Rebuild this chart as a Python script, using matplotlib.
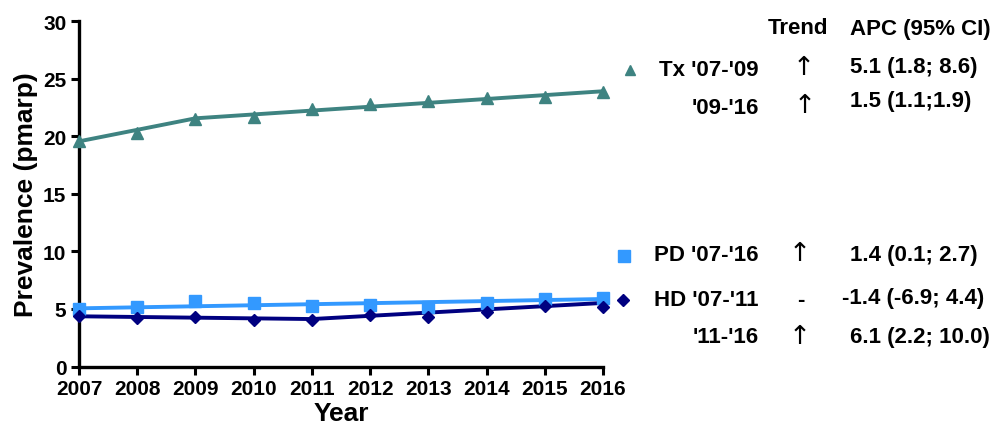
import matplotlib
matplotlib.use("Agg")
import matplotlib.pyplot as plt

plt.rcParams['font.family'] = ['Liberation Sans', 'DejaVu Sans']
plt.rcParams['font.weight'] = 'bold'

years = [2007, 2008, 2009, 2010, 2011, 2012, 2013, 2014, 2015, 2016]

# Observed prevalence (pmarp)
tx_obs = [19.6, 20.25, 21.5, 21.65, 22.35, 22.75, 23.05, 23.3, 23.4, 23.85]
pd_obs = [4.95, 5.15, 5.65, 5.5, 5.25, 5.35, 5.15, 5.5, 5.9, 5.95]
hd_obs = [4.4, 4.2, 4.27, 4.05, 4.05, 4.45, 4.27, 4.7, 5.28, 5.15]

# Joinpoint regression fits (values at the joinpoints)
tx_fit_years = [2007, 2009, 2016]
tx_fit = [19.55, 21.55, 23.9]
pd_fit_years = [2007, 2016]
pd_fit = [5.05, 5.86]
hd_fit_years = [2007, 2011, 2016]
hd_fit = [4.36, 4.12, 5.52]

c_tx = '#3e8381'
c_pd = '#3399ff'
c_hd = '#000080'

W, H = 990, 431
fig = plt.figure(figsize=(W / 100, H / 100), dpi=100)
ax = fig.add_axes([79 / W, (H - 367.5) / H, (603 - 79) / W, (367.5 - 22) / H])

lw = 2.8
ax.plot(tx_fit_years, tx_fit, color=c_tx, lw=lw, solid_capstyle='butt', clip_on=False, zorder=2)
ax.plot(pd_fit_years, pd_fit, color=c_pd, lw=lw, solid_capstyle='butt', clip_on=False, zorder=2)
ax.plot(hd_fit_years, hd_fit, color=c_hd, lw=lw, solid_capstyle='butt', clip_on=False, zorder=2)

ax.plot(years, tx_obs, ls='none', marker='^', ms=9, color=c_tx, clip_on=False, zorder=3)
ax.plot(years, pd_obs, ls='none', marker='s', ms=8, color=c_pd, clip_on=False, zorder=3)
ax.plot(years, hd_obs, ls='none', marker='D', ms=6.3, color=c_hd, clip_on=False, zorder=3)

ax.set_xlim(2007, 2016)
ax.set_ylim(0, 30)
ax.set_xticks(years)
ax.set_yticks(range(0, 31, 5))
for s in ['top', 'right']:
    ax.spines[s].set_visible(False)
for s in ['left', 'bottom']:
    ax.spines[s].set_linewidth(2.4)
ax.tick_params(direction='out', length=6, width=2.2, labelsize=15, pad=3)
for lab in ax.get_xticklabels() + ax.get_yticklabels():
    lab.set_fontweight('bold')
ax.set_xlabel('Year', fontsize=19, fontweight='bold', labelpad=2)
ax.set_ylabel('Prevalence (pmarp)', fontsize=19, fontweight='bold', labelpad=4)


def ftxt(x, y, s, ha='left', size=16, weight='bold', **kw):
    fig.text(x / W, 1 - y / H, s, ha=ha, va='center', fontsize=size, fontweight=weight, **kw)


def arrow(x, y):
    ftxt(x, y, '\u2191', ha='center', size=19, weight='normal', family='DejaVu Sans')


def fmark(x, y, marker, ms, color):
    fig.add_artist(plt.Line2D([x / W], [1 - y / H], marker=marker, ms=ms, color=color,
                              ls='none', transform=fig.transFigure))


# Trend table
ftxt(798, 29, 'Trend', ha='center')
ftxt(850, 29, 'APC (95% CI)')

fmark(630, 71, '^', 7.5, c_tx)
ftxt(759, 71, "Tx '07-'09", ha='right')
arrow(804, 68)
ftxt(850, 67, '5.1 (1.8; 8.6)')
ftxt(759, 109, "'09-'16", ha='right')
arrow(805, 106)
ftxt(850, 101, '1.5 (1.1;1.9)')

fmark(624, 257, 's', 8, c_pd)
ftxt(759, 256, "PD '07-'16", ha='right')
arrow(800, 254)
ftxt(850, 256, '1.4 (0.1; 2.7)')

fmark(623, 301, 'D', 6.3, c_hd)
ftxt(759, 301, "HD '07-'11", ha='right')
ftxt(801, 301, '-', ha='center')
ftxt(842, 299, '-1.4 (-6.9; 4.4)')
ftxt(759, 338, "'11-'16", ha='right')
arrow(800, 337)
ftxt(850, 338, '6.1 (2.2; 10.0)')

fig.savefig('out.png', dpi=100)
